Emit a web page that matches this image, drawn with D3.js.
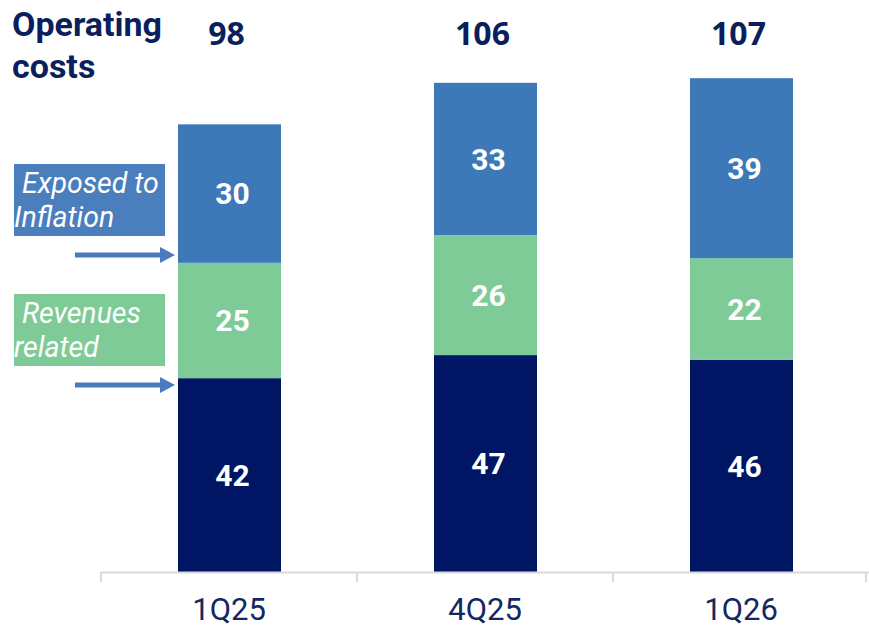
<!DOCTYPE html>
<html>
<head>
<meta charset="utf-8">
<script src="https://cdn.jsdelivr.net/npm/d3@7"></script>
<style>
  html, body { margin: 0; padding: 0; background: #fff; }
  svg { display: block; font-family: Roboto, "Open Sans", sans-serif; }
</style>
</head>
<body>
<svg id="chart" width="869" height="628"></svg>
<script>
// Quarters on the x axis
const quarters = ["1Q25", "4Q25", "1Q26"];
// Stacked cost components (bottom to top)
const baseCosts = [42, 47, 46];
const revenuesRelated = [25, 26, 22];
const exposedToInflation = [30, 33, 39];
// Reported totals above each bar
const totals = [98, 106, 107];

const seriesKeys = ["base", "revenues", "inflation"];
const seriesColors = { base: "#001664", revenues: "#7fcb98", inflation: "#3d79b9" };

const rows = quarters.map((q, i) => ({
  quarter: q,
  base: baseCosts[i],
  revenues: revenuesRelated[i],
  inflation: exposedToInflation[i],
  total: totals[i]
}));

const svg = d3.select("#chart");
const baseline = 572;

const x = d3.scaleBand().domain(quarters).range([101, 869]).paddingInner(0).paddingOuter(0);
const y = d3.scaleLinear().domain([0, 100]).range([baseline, baseline - 461.5]);

const barWidth = 103;
const barCenter = q => x(q) + x.bandwidth() / 2 + 0.5;
const barX = q => barCenter(q) - barWidth / 2;

const stacked = d3.stack().keys(seriesKeys)(rows);

// Stacked segments
const layers = svg.append("g").selectAll("g")
  .data(stacked)
  .join("g")
  .attr("fill", d => seriesColors[d.key]);

layers.selectAll("rect")
  .data(d => d)
  .join("rect")
  .attr("x", d => barX(d.data.quarter))
  .attr("width", barWidth)
  .attr("y", d => y(d[1]))
  .attr("height", d => y(d[0]) - y(d[1]));

// Segment value labels
layers.selectAll("text")
  .data(d => d.map(v => ({ v, key: d.key })))
  .join("text")
  .attr("x", d => barCenter(d.v.data.quarter) + 3)
  .attr("y", d => (y(d.v[0]) + y(d.v[1])) / 2)
  .attr("dy", "0.36em")
  .attr("text-anchor", "middle")
  .attr("fill", "#fff")
  .attr("font-weight", 700)
  .attr("font-size", 30)
  .text(d => d.v.data[d.key]);

// Totals above bars
svg.append("g").selectAll("text")
  .data(rows)
  .join("text")
  .attr("x", d => barCenter(d.quarter) - 3)
  .attr("y", 45)
  .attr("text-anchor", "middle")
  .attr("fill", "#0a1f5c")
  .attr("font-family", "'Open Sans', sans-serif")
  .attr("font-weight", 700)
  .attr("font-size", 32)
  .text(d => d.total);

// X axis
const xAxis = svg.append("g")
  .attr("transform", `translate(0,${baseline})`)
  .call(d3.axisBottom(x).tickSize(0).tickPadding(26));
xAxis.select(".domain").attr("stroke", "#d9d9d9").attr("stroke-width", 2);
xAxis.selectAll(".tick text")
  .attr("font-family", "Roboto, sans-serif")
  .attr("font-size", 31)
  .attr("fill", "#14275e");

// Category separators on the axis
const sepX = [101, 357, 613, 866];
svg.append("g").selectAll("line")
  .data(sepX)
  .join("line")
  .attr("x1", d => d).attr("x2", d => d)
  .attr("y1", baseline).attr("y2", baseline + 10)
  .attr("stroke", "#d9d9d9").attr("stroke-width", 2);

// Title
const title = svg.append("text")
  .attr("fill", "#0a1f5c")
  .attr("font-weight", 700)
  .attr("font-size", 34);
title.append("tspan").attr("x", 12).attr("y", 36).text("Operating");
title.append("tspan").attr("x", 12).attr("y", 78).text("costs");

// Legend boxes
const legend = [
  { lines: ["Exposed to", "Inflation"], fill: "#4b7ebd", y0: 164, arrowY: 255 },
  { lines: ["Revenues", "related"], fill: "#7fcb98", y0: 294, arrowY: 385 }
];
const lg = svg.append("g").selectAll("g").data(legend).join("g");
lg.append("rect")
  .attr("x", 14).attr("y", d => d.y0)
  .attr("width", 151).attr("height", 72)
  .attr("fill", d => d.fill);
lg.each(function(d) {
  const t = d3.select(this).append("text")
    .attr("fill", "#fff")
    .attr("font-style", "italic")
    .attr("font-size", 28.5);
  t.append("tspan").attr("x", 22).attr("y", d.y0 + 29).text(d.lines[0]);
  t.append("tspan").attr("x", 14).attr("y", d.y0 + 63).text(d.lines[1]);
});

// Arrows pointing at segment boundaries
lg.append("rect")
  .attr("x", 75).attr("y", d => d.arrowY - 2.5)
  .attr("width", 88).attr("height", 5)
  .attr("fill", "#4a7bbf");
lg.append("path")
  .attr("d", d => `M160,${d.arrowY - 8} L175,${d.arrowY} L160,${d.arrowY + 8} Z`)
  .attr("fill", "#4a7bbf");
</script>
</body>
</html>
